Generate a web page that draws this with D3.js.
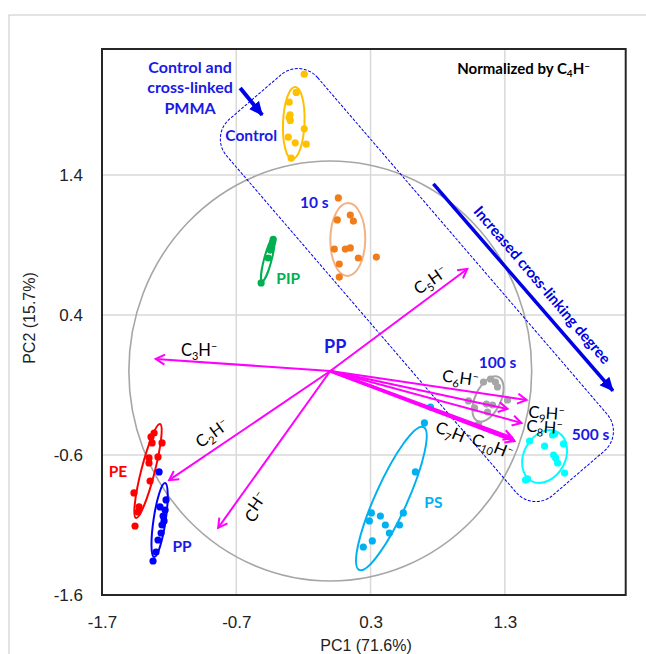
<!DOCTYPE html>
<html>
<head>
<meta charset="utf-8">
<script src="https://cdn.jsdelivr.net/npm/d3@7"></script>
<style>
  body { margin: 0; background: #fff; }
  svg { display: block; }
  .tick text { font-family: "Liberation Sans", Arial, sans-serif; font-size: 17px; fill: #222; }
  .lbl { font-family: Lato, "Open Sans", sans-serif; font-weight: bold; font-size: 15.5px; }
  .ion { font-family: Lato, "Open Sans", sans-serif; font-size: 16.5px; fill: #000; }
</style>
</head>
<body>
<script>
// ---- data (PC1, PC2 scores) ----
const controlPts = [[-0.194,2.12],[-0.254,1.99],[-0.306,1.92],[-0.306,1.81],[-0.298,1.79],[-0.194,1.73],[-0.313,1.67],[-0.261,1.63],[-0.179,1.62],[-0.291,1.52],[-0.300,1.83]];
const s10Pts = [[0.060,1.236],[0.052,1.079],[0.149,1.114],[0.172,1.071],[0.030,0.871],[0.112,0.871],[0.149,0.879],[0.209,0.807],[0.343,0.814],[0.067,0.764],[0.067,0.671]];
const pipPts = [[-0.515,0.629],[-0.43,0.92],[-0.447,0.864],[-0.462,0.807],[-0.44,0.89],[-0.425,0.94]];
const pePts = [[-1.312,-0.443],[-1.335,-0.471],[-1.327,-0.514],[-1.253,-0.514],[-1.350,-0.621],[-1.283,-0.614],[-1.350,-0.657],[-1.342,-0.786],[-1.462,-0.871],[-1.424,-0.971],[-1.432,-1.007],[-1.454,-1.107]];
const ppPts = [[-1.275,-0.721],[-1.223,-0.921],[-1.268,-0.971],[-1.230,-0.993],[-1.245,-1.036],[-1.238,-1.071],[-1.253,-1.10],[-1.260,-1.157],[-1.283,-1.207],[-1.298,-1.293],[-1.320,-1.357]];
const psPts = [[0.746,-0.257],[0.701,-0.371],[0.634,-0.721],[0.306,-1.014],[0.291,-1.071],[0.373,-1.036],[0.544,-1.014],[0.410,-1.10],[0.515,-1.10],[0.440,-1.157],[0.313,-1.214],[0.246,-1.257]];
const s100Pts = [[1.141,-0.079],[1.193,-0.057],[1.230,-0.079],[1.029,-0.214],[1.074,-0.264],[1.163,-0.236],[1.208,-0.243],[1.320,-0.207],[1.171,-0.293],[1.104,-0.379],[1.245,-0.114]];
const s500Pts = [[1.484,-0.50],[1.655,-0.457],[1.670,-0.45],[1.596,-0.536],[1.737,-0.521],[1.663,-0.60],[1.678,-0.621],[1.693,-0.657],[1.745,-0.729],[1.454,-0.779],[1.469,-0.771]];

const groupNames = ["Control", "10 s", "PIP", "PE", "PP", "PS", "100 s", "500 s"];
const groupPoints = [controlPts, s10Pts, pipPts, pePts, ppPts, psPts, s100Pts, s500Pts];
// confidence ellipses: major axis end points [x1,y1,x2,y2] and minor semi-axis (PC units)
const ellipseAxes = [
  [-0.261, 2.029, -0.283, 1.514, 0.08],
  [0.134, 1.200, 0.127, 0.679, 0.13],
  [-0.425, 0.943, -0.507, 0.643, 0.028],
  [-1.268, -0.379, -1.447, -1.050, 0.05],
  [-1.230, -0.800, -1.312, -1.329, 0.045],
  [0.694, -0.400, 0.216, -1.421, 0.12],
  [1.253, -0.043, 1.096, -0.357, 0.095],
  [1.693, -0.436, 1.499, -0.786, 0.155]
];

// loadings (arrow tips)
const vecNames = [3, 2, 1, 5, 6, 9, 8, 7, 10]; // CnH-
const vecX = [-1.30, -1.20, -0.835, 1.02, 1.462, 1.320, 1.424, 1.372, 1.357];
const vecY = [0.086, -0.78, -1.12, 0.729, -0.207, -0.271, -0.371, -0.50, -0.479];

const xTicks = [-1.7, -0.7, 0.3, 1.3];
const yTicks = [-1.6, -0.6, 0.4, 1.4];

// ---- styles / layout ----
const width = 646, height = 654;
const groupColors = ["#FFC000", "#F07D1A", "#00B050", "#FF0000", "#0000FF", "#00B0F0", "#A6A6A6", "#00FFFF"];
const ellipseColors = ["#FFC000", "#F4B183", "#00B050", "#FF0000", "#0000FF", "#00B0F0", "#A6A6A6", "#00FFFF"];
const labelColors = ["#1A1AE6", "#1A1AE6", "#00B050", "#FF0000", "#1A1AE6", "#00B0F0", "#1A1AE6", "#1A1AE6"];
const labelPos = [[-0.589,1.679],[-0.119,1.2],[-0.313,0.657],[-1.581,-0.721],[-1.104,-1.257],[0.768,-0.943],[1.245,0.057],[1.939,-0.457]];
const vecLabelPos = [[-0.977,0.15,0],[-0.88,-0.443,-36],[-0.544,-0.979,-55],[0.746,0.65,-35],[0.969,-0.05,8],[1.61,-0.30,4],[1.595,-0.40,4],[0.917,-0.443,22],[1.208,-0.536,22]];
const magenta = "#FF00FF";
const annBlue = "#0000E6";

const x = d3.scaleLinear().domain([-1.7, 2.2]).range([102, 625.7]);
const y = d3.scaleLinear().domain([-1.6, 2.3]).range([595, 49]);

const svg = d3.select("body").append("svg")
    .attr("width", width)
    .attr("height", height);

svg.append("rect").attr("width", width).attr("height", height).attr("fill", "#fff");
// outer figure frame
svg.append("rect")
    .attr("x", 9).attr("y", 15).attr("width", 660).attr("height", 660)
    .attr("fill", "none").attr("stroke", "#c8c8c8").attr("stroke-width", 1);

const defs = svg.append("defs");
defs.append("marker")
    .attr("id", "vhead").attr("viewBox", "-10 -6 12 12")
    .attr("refX", 0).attr("refY", 0)
    .attr("markerWidth", 12).attr("markerHeight", 12)
    .attr("markerUnits", "userSpaceOnUse").attr("orient", "auto")
  .append("path").attr("d", "M-9,-5L0,0L-9,5")
    .attr("fill", "none").attr("stroke", magenta).attr("stroke-width", 2);
defs.append("marker")
    .attr("id", "bhead").attr("viewBox", "-12 -6 13 12")
    .attr("refX", 0).attr("refY", 0)
    .attr("markerWidth", 14).attr("markerHeight", 14)
    .attr("markerUnits", "userSpaceOnUse").attr("orient", "auto")
  .append("path").attr("d", "M-12,-6L1,0L-12,6Z").attr("fill", annBlue);

// gridlines
svg.append("g").selectAll("line").data(xTicks.slice(1)).join("line")
    .attr("x1", d => x(d)).attr("x2", d => x(d)).attr("y1", y(2.3)).attr("y2", y(-1.6))
    .attr("stroke", "#d9d9d9").attr("stroke-width", 1.5);
svg.append("g").selectAll("line").data(yTicks.slice(1)).join("line")
    .attr("x1", x(-1.7)).attr("x2", x(2.2)).attr("y1", d => y(d)).attr("y2", d => y(d))
    .attr("stroke", "#d9d9d9").attr("stroke-width", 1.5);

// axes
const xAxis = svg.append("g").attr("transform", `translate(0,${y(-1.6)})`)
    .call(d3.axisBottom(x).tickValues(xTicks).tickSize(0).tickPadding(21));
const yAxis = svg.append("g").attr("transform", `translate(${x(-1.7)},0)`)
    .call(d3.axisLeft(y).tickValues(yTicks).tickSize(0).tickPadding(19));
xAxis.select(".domain").remove();
yAxis.select(".domain").remove();
xAxis.selectAll("text").text(d => d.toFixed(1));
yAxis.selectAll("text").text(d => d.toFixed(1));

svg.append("text")
    .attr("x", 366).attr("y", 651)
    .attr("text-anchor", "middle")
    .style("font-family", "Liberation Sans, Arial, sans-serif").style("font-size", "16px").attr("fill", "#222")
    .text("PC1 (71.6%)");
svg.append("text")
    .attr("transform", "translate(35,318) rotate(-90)")
    .attr("text-anchor", "middle")
    .style("font-family", "Liberation Sans, Arial, sans-serif").style("font-size", "16px").attr("fill", "#222")
    .text("PC2 (15.7%)");

// correlation circle (radius 1.5)
svg.append("ellipse")
    .attr("cx", x(0)).attr("cy", y(0))
    .attr("rx", x(1.5) - x(0)).attr("ry", y(0) - y(1.5))
    .attr("fill", "none").attr("stroke", "#A6A6A6").attr("stroke-width", 1.6);

// dashed rounded box round PMMA samples
const boxC = [x(0.645), y(0.614)];
svg.append("rect")
    .attr("transform", `translate(${boxC[0]},${boxC[1]}) rotate(49.3)`)
    .attr("x", -248).attr("y", -60).attr("width", 496).attr("height", 120)
    .attr("rx", 26).attr("ry", 26)
    .attr("fill", "none").attr("stroke", annBlue).attr("stroke-width", 1)
    .attr("stroke-dasharray", "3,1.5");

// ellipses
svg.append("g").selectAll("ellipse").data(ellipseAxes).join("ellipse")
    .each(function(e, i) {
      const x1 = x(e[0]), y1 = y(e[1]), x2 = x(e[2]), y2 = y(e[3]);
      const len = Math.hypot(x2 - x1, y2 - y1);
      const ang = Math.atan2(y2 - y1, x2 - x1) * 180 / Math.PI;
      d3.select(this)
        .attr("transform", `translate(${(x1 + x2) / 2},${(y1 + y2) / 2}) rotate(${ang})`)
        .attr("rx", len / 2)
        .attr("ry", e[4] * (x(1) - x(0)))
        .attr("fill", "none")
        .attr("stroke", ellipseColors[i])
        .attr("stroke-width", 2);
    });

// score points
groupPoints.forEach((pts, i) => {
  svg.append("g").selectAll("circle").data(pts).join("circle")
      .attr("cx", d => x(d[0])).attr("cy", d => y(d[1]))
      .attr("r", 3.6).attr("fill", groupColors[i]);
});

// loading vectors
svg.append("g").selectAll("line").data(vecX).join("line")
    .attr("x1", x(0)).attr("y1", y(0))
    .attr("x2", (d, i) => x(d)).attr("y2", (d, i) => y(vecY[i]))
    .attr("stroke", magenta)
    .attr("stroke-width", (d, i) => vecNames[i] === 7 || vecNames[i] === 10 ? 3 : 2)
    .attr("marker-end", "url(#vhead)");

function ionText(sel, n) {
  sel.append("tspan").text("C");
  sel.append("tspan").attr("dy", 4).style("font-size", "11px").text(n);
  sel.append("tspan").attr("dy", -4).text("H");
  sel.append("tspan").attr("dy", -6).style("font-size", "11px").text("\u2013");
}

vecNames.forEach((n, i) => {
  const p = vecLabelPos[i];
  const t = svg.append("text").attr("class", "ion")
      .attr("transform", `translate(${x(p[0])},${y(p[1])}) rotate(${p[2]})`)
      .attr("text-anchor", "middle").attr("dy", "0.35em");
  ionText(t, n === 1 ? "" : n);
});

// group labels
svg.append("g").selectAll("text").data(groupNames).join("text")
    .attr("class", "lbl")
    .attr("x", (d, i) => x(labelPos[i][0])).attr("y", (d, i) => y(labelPos[i][1]))
    .attr("dy", "0.35em").attr("text-anchor", "middle")
    .attr("fill", (d, i) => labelColors[i])
    .text(d => d);

svg.append("text").attr("class", "lbl")
    .attr("x", x(0.037)).attr("y", y(0.171)).attr("dy", "0.35em")
    .attr("text-anchor", "middle").attr("fill", "#1A1AE6").style("font-size", "18px")
    .text("PP");

// annotations
const note = svg.append("text").attr("class", "lbl")
    .attr("x", x(1.44)).attr("y", y(2.157)).attr("dy", "0.35em")
    .attr("text-anchor", "middle").attr("fill", "#000").style("font-size", "15px");
note.append("tspan").text("Normalized by C");
note.append("tspan").attr("dy", 3).style("font-size", "10px").text("4");
note.append("tspan").attr("dy", -3).text("H");
note.append("tspan").attr("dy", -5).style("font-size", "10px").text("\u2013");

const pm = svg.append("text").attr("class", "lbl")
    .attr("x", x(-1.044)).attr("y", y(2.171))
    .attr("text-anchor", "middle").attr("fill", "#1A1AE6").style("font-size", "16px");
["Control and", "cross-linked", "PMMA"].forEach((s, i) => {
  pm.append("tspan").attr("x", x(-1.044)).attr("dy", i === 0 ? "0.35em" : 20.5).text(s);
});

svg.append("line")
    .attr("x1", x(-0.671)).attr("y1", y(2.021)).attr("x2", x(-0.507)).attr("y2", y(1.829))
    .attr("stroke", annBlue).attr("stroke-width", 4).attr("marker-end", "url(#bhead)");

svg.append("line")
    .attr("x1", x(0.768)).attr("y1", y(1.336)).attr("x2", x(2.105)).attr("y2", y(-0.141))
    .attr("stroke", annBlue).attr("stroke-width", 3.5).attr("marker-end", "url(#bhead)");

svg.append("text").attr("class", "lbl")
    .attr("transform", `translate(${x(1.578)},${y(0.614)}) rotate(49.5)`)
    .attr("text-anchor", "middle").attr("dy", "0.35em")
    .attr("fill", annBlue).style("font-size", "15px")
    .text("Increased cross-linking degree");

// plot frame
svg.append("rect")
    .attr("x", x(-1.7)).attr("y", y(2.3))
    .attr("width", x(2.2) - x(-1.7)).attr("height", y(-1.6) - y(2.3))
    .attr("fill", "none").attr("stroke", "#262626").attr("stroke-width", 2);
</script>
</body>
</html>
